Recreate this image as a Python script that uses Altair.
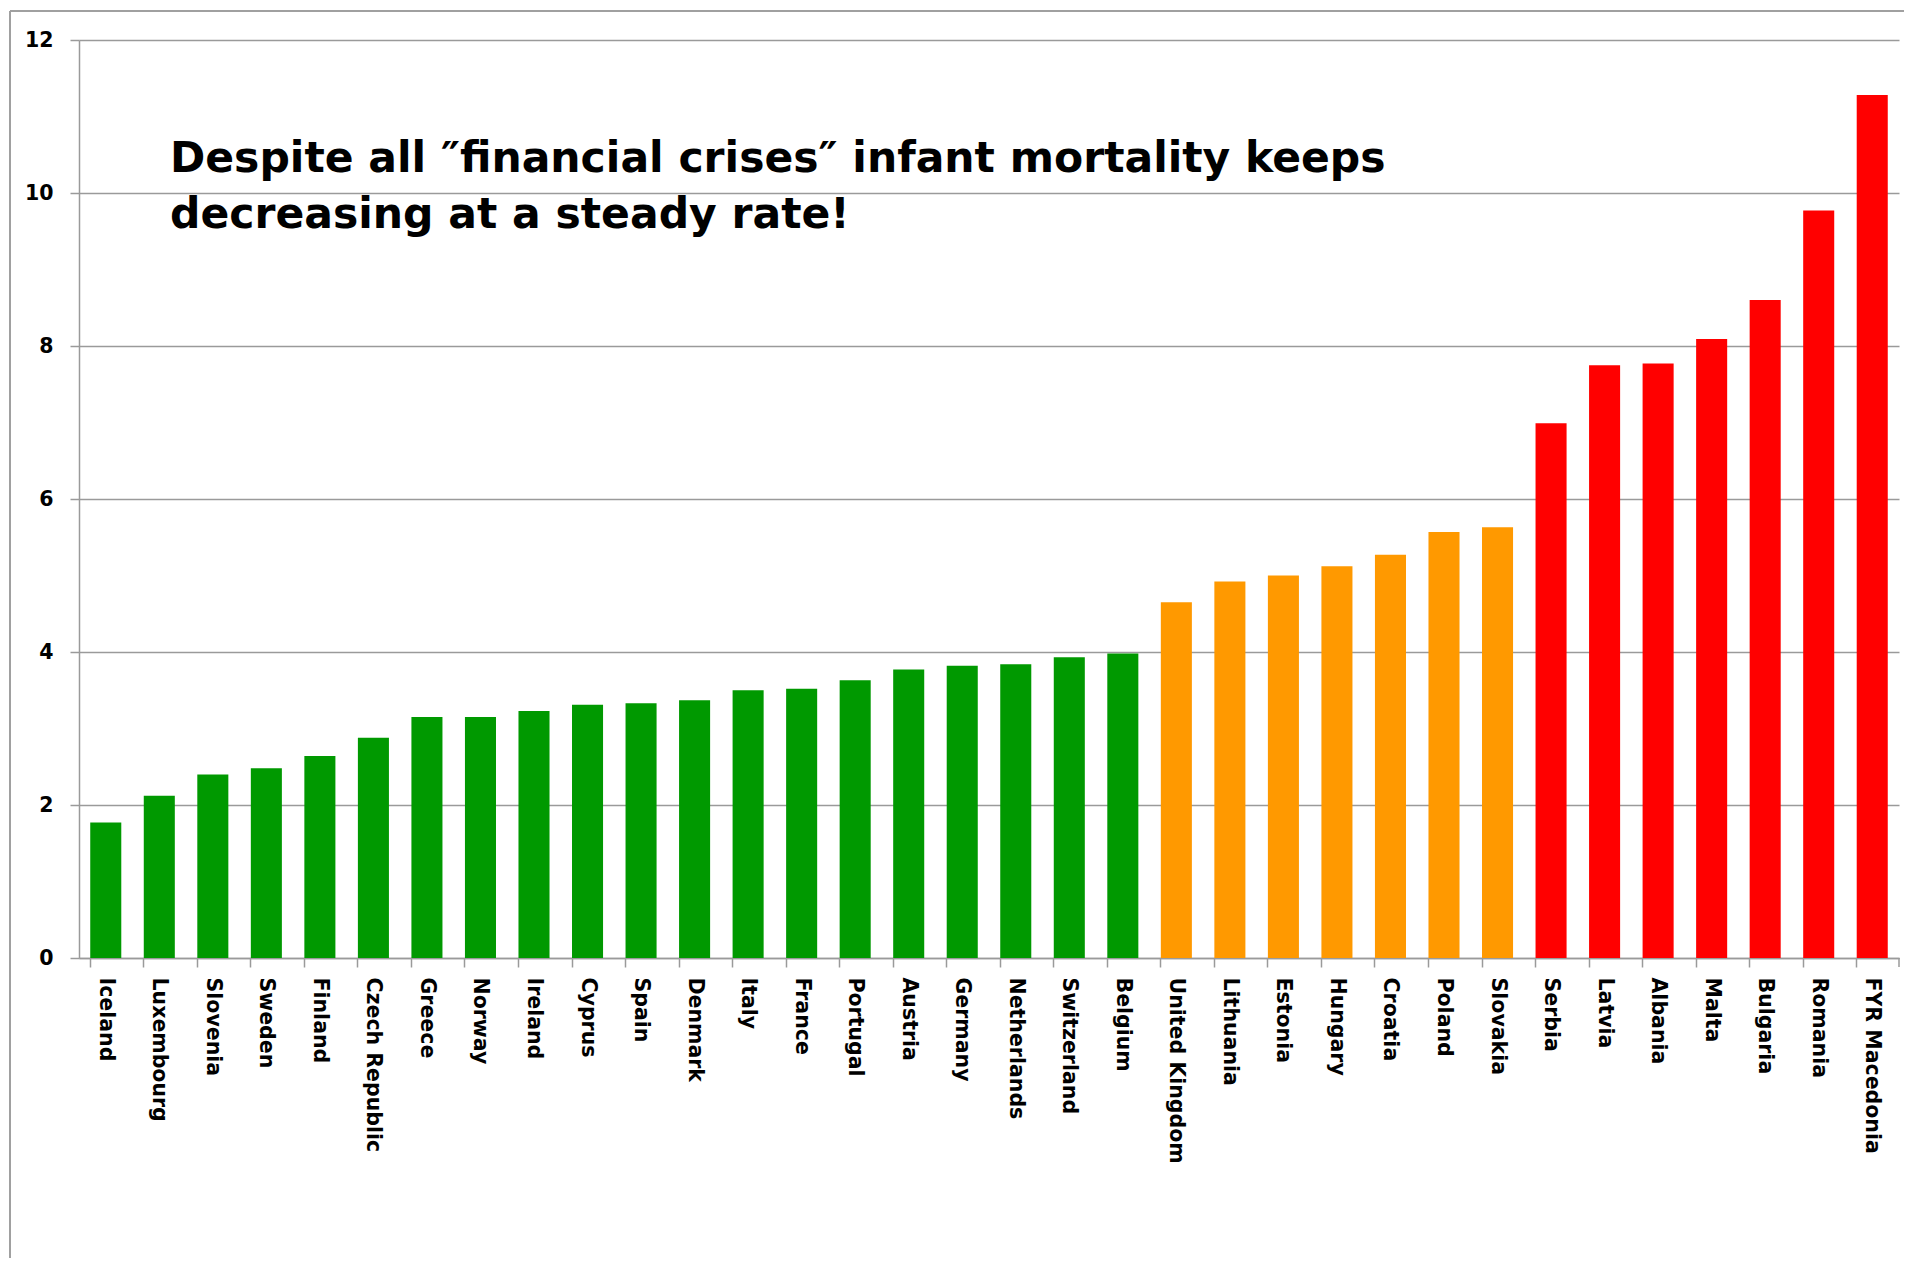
import altair as alt
import pandas as pd

countries = ["Iceland", "Luxembourg", "Slovenia", "Sweden", "Finland", "Czech Republic",
             "Greece", "Norway", "Ireland", "Cyprus", "Spain", "Denmark", "Italy", "France",
             "Portugal", "Austria", "Germany", "Netherlands", "Switzerland", "Belgium",
             "United Kingdom", "Lithuania", "Estonia", "Hungary", "Croatia", "Poland", "Slovakia",
             "Serbia", "Latvia", "Albania", "Malta", "Bulgaria", "Romania", "FYR Macedonia"]
values = [1.77, 2.12, 2.40, 2.48, 2.64, 2.88, 3.15, 3.15, 3.23, 3.31, 3.33, 3.37, 3.50, 3.52,
          3.63, 3.77, 3.82, 3.84, 3.93, 3.98,
          4.65, 4.92, 5.00, 5.12, 5.27, 5.57, 5.63,
          6.99, 7.75, 7.77, 8.09, 8.60, 9.77, 11.28]
groups = ["low"] * 20 + ["mid"] * 7 + ["high"] * 7
group_names = ["low", "mid", "high"]
group_colors = ["#009900", "#FF9900", "#FF0000"]
y_ticks = [0, 2, 4, 6, 8, 10, 12]
headline = "Despite all \u2033financial crises\u2033 infant mortality keeps\ndecreasing at a steady rate!"

df = pd.DataFrame({"country": countries, "value": values, "group": groups})
one = pd.DataFrame({"t": [headline]})

FONT = "DejaVu Sans"
GRAY = "#9a9a9a"
W, H = 1820, 918

bars = alt.Chart(df).mark_bar().encode(
    x=alt.X("country:N", sort=None,
            scale=alt.Scale(paddingInner=0.42, paddingOuter=0.21),
            axis=alt.Axis(title=None, labelAngle=90, labelFont=FONT, labelFontSize=20.5,
                          labelFontWeight="bold", labelColor="black", labelPadding=10,
                          labelLimit=400, labelOverlap=False, tickSize=9, bandPosition=0,
                          tickColor=GRAY, tickWidth=1.5, domainColor=GRAY, domainWidth=1.5,
                          grid=False)),
    y=alt.Y("value:Q", scale=alt.Scale(domain=[0, 12], nice=False),
            axis=alt.Axis(title=None, values=y_ticks, format="d", labelFont=FONT,
                          labelFontSize=20.5, labelFontWeight="bold", labelColor="black",
                          labelPadding=17, tickSize=9, tickColor=GRAY, tickWidth=1.5,
                          domainColor=GRAY, domainWidth=1.5, grid=True, gridColor=GRAY,
                          gridWidth=1.5)),
    color=alt.Color("group:N", scale=alt.Scale(domain=group_names, range=group_colors),
                    legend=None),
)

text = alt.Chart(one).mark_text(
    align="left", baseline="alphabetic", font=FONT, fontSize=42.5, fontWeight="bold",
    color="black", lineBreak="\n", lineHeight=56
).encode(text="t:N", x=alt.value(91), y=alt.value(132))

frame_left = alt.Chart(one).mark_rule(color="#a0a0a0", strokeWidth=2).encode(
    x=alt.value(-69), y=alt.value(-29), y2=alt.value(1250))
frame_top = alt.Chart(one).mark_rule(color="#a0a0a0", strokeWidth=2).encode(
    x=alt.value(-69), x2=alt.value(1840), y=alt.value(-29))
end_tick = alt.Chart(one).mark_rule(color=GRAY, strokeWidth=1.5).encode(
    x=alt.value(W), y=alt.value(H), y2=alt.value(H + 9))

chart = alt.layer(bars, text, frame_left, frame_top, end_tick).properties(
    width=W, height=H,
    autosize=alt.AutoSizeParams(type="none"),
    padding={"left": 71, "top": 32, "right": 5, "bottom": 300},
    background="white",
).configure_view(stroke=None)

chart.save("out.html", embed_options={"renderer": "svg", "actions": False})
